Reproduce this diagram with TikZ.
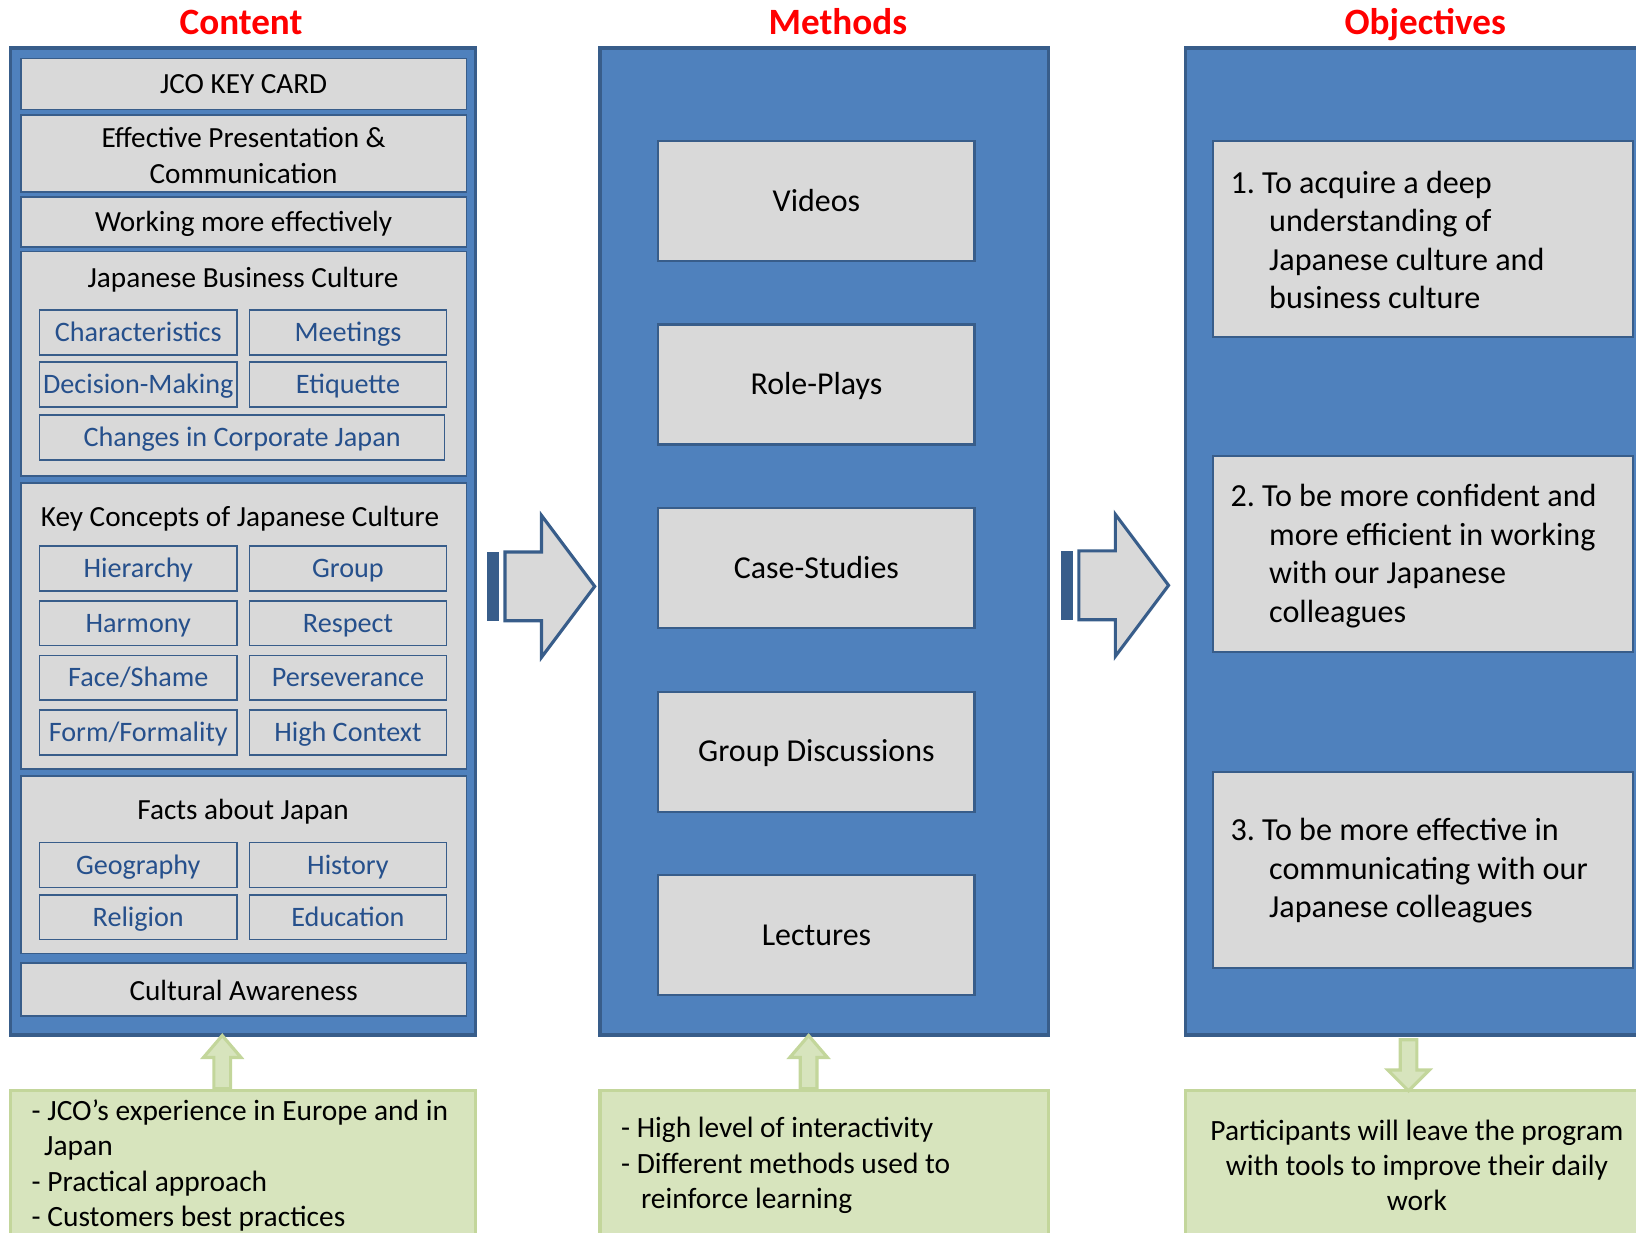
\documentclass[tikz,border=0pt]{standalone}
\usepackage{fontspec}
\setmainfont{Carlito}
\frenchspacing
\usetikzlibrary{positioning,calc,fit}

\definecolor{frameblue}{RGB}{79,129,189}
\definecolor{darkblue}{RGB}{56,93,138}
\definecolor{boxgray}{RGB}{217,217,217}
\definecolor{itemblue}{RGB}{38,80,140}
\definecolor{notegreen}{RGB}{215,228,189}
\definecolor{greenedge}{RGB}{195,214,155}

% striped block arrow between two columns
\newcommand{\stripearrow}[1]{%
  \begin{scope}[shift={(#1)}]
    \fill[darkblue] (-51.5,-33) rectangle (-40.5,33);
    \draw[darkblue,line width=1.5pt,fill=boxgray,line join=miter]
      (-34.5,-33) -- (0.5,-33) -- (0.5,-68) -- (51.5,0) -- (0.5,68)
      -- (0.5,33) -- (-34.5,33) -- cycle;
  \end{scope}}
% small green arrows under the columns
\newcommand{\greenup}[1]{%
  \draw[greenedge,line width=1.5pt,fill=notegreen,shift={(#1)}]
    (-8,0) -- (-8,-30) -- (-18,-30) -- (0,-51) -- (18,-30) -- (8,-30) -- (8,0) -- cycle;}
\newcommand{\greendown}[1]{%
  \draw[greenedge,line width=1.5pt,fill=notegreen,shift={(#1)}]
    (-8,0) -- (-8,29) -- (-20,29) -- (0,49) -- (20,29) -- (8,29) -- (8,0) -- cycle;}

\begin{document}
\begin{tikzpicture}[x=0.5pt,y=-0.5pt,font=\fontsize{14}{17}\selectfont,
   frame/.style={draw=darkblue,line width=1.5pt,fill=frameblue,inner sep=0pt},
   row/.style={draw=darkblue,line width=0.8pt,fill=boxgray,inner sep=0pt},
   lbl/.style={inner sep=0pt,text height=12pt,text depth=3pt},
   item/.style={draw=darkblue,line width=0.8pt,fill=boxgray,text=itemblue,
                minimum width=94.5pt,minimum height=21.5pt,inner sep=0pt,
                font=\fontsize{13.5}{16}\selectfont,text height=11.5pt,text depth=2.8pt},
   method/.style={draw=darkblue,line width=1pt,fill=boxgray,minimum width=151.5pt,
                  minimum height=57.5pt,inner sep=0pt,font=\fontsize{15.3}{18}\selectfont,
                  text height=13.2pt,text depth=3.4pt},
   goal/.style={draw=darkblue,line width=1pt,fill=boxgray,minimum width=201pt,
                minimum height=94pt},
   goaltext/.style={align=left,inner sep=0pt,font=\fontsize{15.4}{18.5}\selectfont},
   note/.style={draw=greenedge,line width=1.5pt,fill=notegreen,inner sep=0pt},
   notetext/.style={align=left,inner sep=0pt,font=\fontsize{14.1}{16.85}\selectfont},
   title/.style={text=red,inner sep=0pt,text height=15pt,text depth=3.5pt,
                 font=\fontsize{17.8}{21}\selectfont\bfseries}]
  \useasboundingbox (0,0) rectangle (1568,1181);
  \clip (0,0) rectangle (1568,1181);

  % column titles
  \node[title] (tcont) at (231,22) {Content};
  \node[title] (tmeth) at (803,22) {Methods};
  \node[title] (tobj) at (1366,22) {Objectives};

  % the three columns
  \node[frame,fit={(10,46) (456,992)}] (content) {};
  \node[frame,fit={(575,46) (1005,992)}] (methods) {};
  \node[frame,fit={(1136,46) (1620,992)}] (objectives) {};

  % content rows
  \node[row,fit={(20,56) (447,105)}] (jco) {};
  \node[row,fit={(20,110) (447,184)}] (present) {};
  \node[row,fit={(20,189) (447,237)}] (working) {};
  \node[row,fit={(20,241) (447,456)}] (jbc) {};
  \node[row,fit={(20,463) (447,737)}] (concepts) {};
  \node[row,fit={(20,744) (447,914)}] (facts) {};
  \node[row,fit={(20,923) (447,974)}] (aware) {};

  \node[lbl] (jcotxt) at (jco) {JCO KEY CARD};
  \node[align=center,inner sep=0pt] (presenttxt) at ([yshift=-1pt]present.center)
    {Effective Presentation \&\\Communication};
  \node[lbl] (workingtxt) at (working) {Working more effectively};
  \node[lbl] (awaretxt) at (233.5,950) {Cultural Awareness};

  \node[lbl] (jbchead) at (233,267) {Japanese Business Culture};
  \node[item] (charac) at (132.5,318.5) {Characteristics};
  \node[item,right=5.2pt of charac] (meet) {Meetings};
  \node[item,below=2.7pt of charac] (decide) {Decision-Making};
  \node[item,right=5.2pt of decide] (etiq) {Etiquette};
  \node[item,minimum width=194pt] (changes) at (232,419.5) {Changes in Corporate Japan};

  \node[lbl] (kchead) at (230,496) {Key Concepts of Japanese Culture};
  \node[item] (hier) at (132.5,545) {Hierarchy};
  \node[item,right=5.2pt of hier] (group) {Group};
  \node[item,below=3.85pt of hier] (harm) {Harmony};
  \node[item,right=5.2pt of harm] (resp) {Respect};
  \node[item,below=3.85pt of harm] (face) {Face/Shame};
  \node[item,right=5.2pt of face] (perse) {Perseverance};
  \node[item,below=3.85pt of face] (form) {Form/Formality};
  \node[item,right=5.2pt of form] (highc) {High Context};

  \node[lbl] (factshead) at (233,776) {Facts about Japan};
  \node[item] (geo) at (132.5,829) {Geography};
  \node[item,right=5.2pt of geo] (hist) {History};
  \node[item,below=2.7pt of geo] (relig) {Religion};
  \node[item,right=5.2pt of relig] (educ) {Education};

  % methods
  \node[method] (videos) at (782.5,192.5) {Videos};
  \node[method,below=29.5pt of videos] (roles) {Role-Plays};
  \node[method,below=29.5pt of roles] (cases) {Case-Studies};
  \node[method,below=29.5pt of cases] (discuss) {Group Discussions};
  \node[method,below=29.5pt of discuss] (lectures) {Lectures};

  % objectives
  \newcommand{\ind}{\hspace*{18.5pt}}
  \node[goal] (goal1) at (1364,229) {};
  \node[goal] (goal2) at (1364,531) {};
  \node[goal] (goal3) at (1364,833.5) {};
  \node[goaltext,anchor=west] (goaltxt1) at ([xshift=8.5pt,yshift=-0.5pt]goal1.west)
    {1. To acquire a deep\\\ind understanding of\\\ind Japanese culture and\\
     \ind business culture};
  \node[goaltext,anchor=west] (goaltxt2) at ([xshift=8.5pt,yshift=-1pt]goal2.west)
    {2. To be more confident and\\\ind more efficient in working\\
     \ind with our Japanese\\\ind colleagues};
  \node[goaltext,anchor=west] (goaltxt3) at ([xshift=8.5pt,yshift=-0.5pt]goal3.west)
    {3. To be more effective in\\\ind communicating with our\\
     \ind Japanese colleagues};

  % block arrows
  \coordinate (arrA) at (518.5,562);
  \coordinate (arrB) at (1068.5,561);
  \stripearrow{arrA}
  \stripearrow{arrB}

  % green notes
  \node[note,fit={(10,1045) (456,1250)}] (note1) {};
  \node[note,fit={(575,1045) (1005,1250)}] (note2) {};
  \node[note,fit={(1136,1045) (1620,1250)}] (note3) {};
  \node[notetext,anchor=west] (txt1) at (30,1117) {- JCO’s experience in Europe and in\\
    \hspace*{6pt}Japan\\- Practical approach\\- Customers best practices};
  \node[notetext,anchor=west] (txt2) at (595,1117) {- High level of interactivity\\
    - Different methods used to\\\hspace*{9.5pt}reinforce learning};
  \node[notetext,align=center] (txt3) at (1358,1117) {Participants will leave the program\\
    with tools to improve their daily\\work};

  \coordinate (up1) at ($(note1.north)+(-20,0)$);
  \coordinate (up2) at ($(note2.north)+(-15,0)$);
  \coordinate (down3) at ($(objectives.south)+(-28,3)$);
  \greenup{up1}
  \greenup{up2}
  \greendown{down3}
\end{tikzpicture}
\end{document}
